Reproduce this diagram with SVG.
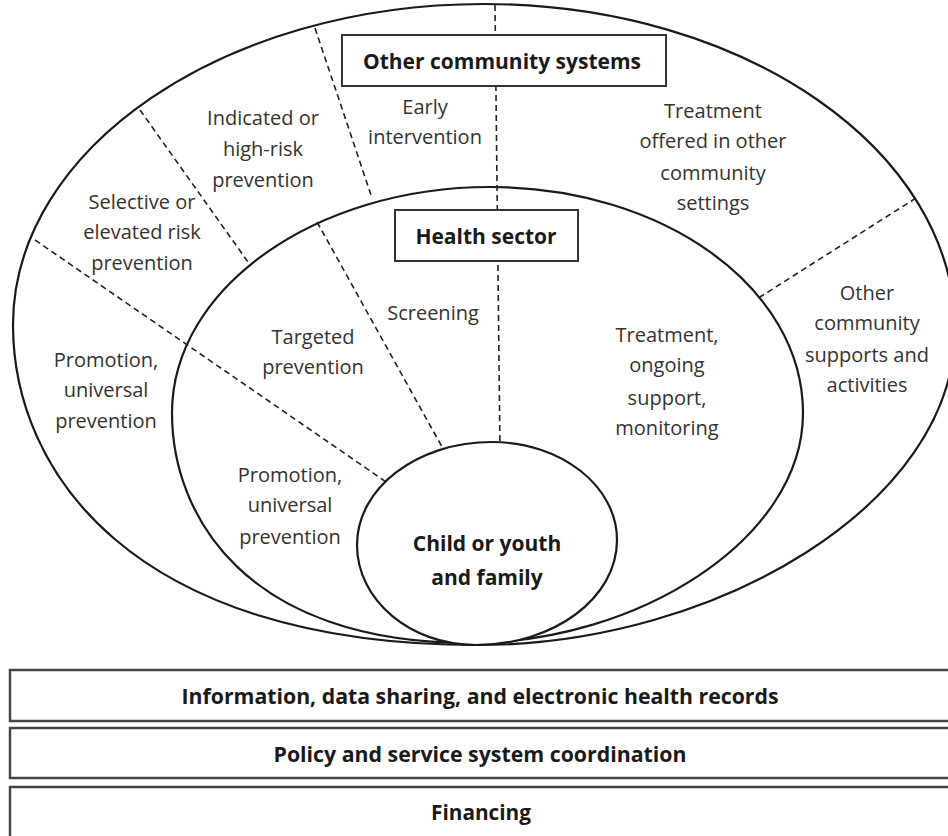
<svg xmlns="http://www.w3.org/2000/svg" width="948" height="836" viewBox="0 0 948 836">
<defs>
<style>
.ring{fill:none;stroke:#1a1a1a;stroke-width:2.2}
.dash{fill:none;stroke:#222;stroke-width:1.6;stroke-dasharray:6 4}
.box{fill:#fff;stroke:#333;stroke-width:2}
.bar{fill:#fff;stroke:#444;stroke-width:2.5}
.t{font-family:"Open Sans","Liberation Sans",sans-serif;font-size:20px;fill:#333;text-anchor:middle}
.b{font-family:"Open Sans","Liberation Sans",sans-serif;font-size:21px;font-weight:bold;fill:#1a1a1a;text-anchor:middle}
.bt{font-family:"Open Sans","Liberation Sans",sans-serif;font-size:21px;font-weight:bold;fill:#1a1a1a;text-anchor:middle}
</style>
</defs>
<rect width="948" height="836" fill="#fff"/>

<g id="outer-ring">
<path class="ring" d="M484,4 C744,4 955,150 955,330 C955,504 716,645 478,645 C129,645 13,469 13,325 C13,148 224,4 484,4 Z"/>
</g>
<g id="health-ring">
<path class="ring" d="M490,187 C664,187 803,288 803,413 C803,540 636,643 470,643 C246,643 172,516 172,413 C172,288 316,187 490,187 Z"/>
</g>

<g id="connectors">
<line class="dash" x1="495" y1="5" x2="500" y2="450"/>
<line class="dash" x1="315" y1="28" x2="372" y2="198"/>
<line class="dash" x1="140" y1="110" x2="248" y2="262"/>
<line class="dash" x1="35" y1="240" x2="392" y2="486"/>
<line class="dash" x1="317" y1="222" x2="446" y2="454"/>
<line class="dash" x1="916" y1="198" x2="760" y2="297"/>
</g>

<g id="child">
<path class="ring" style="fill:#fff" d="M492,442 C561,442 617,486 617,540 C617,598 554,645 476,645 C410,645 357,600 357,545 C357,488 417,442 492,442 Z"/>
<text class="b" x="487" y="551">Child or youth</text>
<text class="b" x="487" y="585">and family</text>
</g>

<g id="other-community-systems">
<rect class="box" x="342" y="35" width="324" height="51"/>
<text class="b" x="502" y="69">Other community systems</text>
</g>
<g id="health-sector">
<rect class="box" x="395" y="210" width="183" height="51"/>
<text class="b" x="486" y="244">Health sector</text>
</g>

<g id="early-intervention">
<text class="t" x="425" y="114">Early</text>
<text class="t" x="425" y="144">intervention</text>
</g>
<g id="indicated">
<text class="t" x="263" y="125">Indicated or</text>
<text class="t" x="263" y="156">high-risk</text>
<text class="t" x="263" y="187">prevention</text>
</g>
<g id="selective">
<text class="t" x="142" y="209">Selective or</text>
<text class="t" x="142" y="239">elevated risk</text>
<text class="t" x="142" y="270">prevention</text>
</g>
<g id="treatment-other">
<text class="t" x="713" y="118">Treatment</text>
<text class="t" x="713" y="148">offered in other</text>
<text class="t" x="713" y="180">community</text>
<text class="t" x="713" y="210">settings</text>
</g>
<g id="other-supports">
<text class="t" x="867" y="300">Other</text>
<text class="t" x="867" y="330">community</text>
<text class="t" x="867" y="362">supports and</text>
<text class="t" x="867" y="392">activities</text>
</g>
<g id="promotion-outer">
<text class="t" x="106" y="367">Promotion,</text>
<text class="t" x="106" y="397">universal</text>
<text class="t" x="106" y="428">prevention</text>
</g>
<g id="screening">
<text class="t" x="433" y="320">Screening</text>
</g>
<g id="targeted">
<text class="t" x="313" y="344">Targeted</text>
<text class="t" x="313" y="374">prevention</text>
</g>
<g id="treatment-health">
<text class="t" x="667" y="342">Treatment,</text>
<text class="t" x="667" y="372">ongoing</text>
<text class="t" x="667" y="405">support,</text>
<text class="t" x="667" y="435">monitoring</text>
</g>
<g id="promotion-inner">
<text class="t" x="290" y="482">Promotion,</text>
<text class="t" x="290" y="512">universal</text>
<text class="t" x="290" y="544">prevention</text>
</g>

<g id="bar-information">
<rect class="bar" x="10" y="670" width="945" height="51"/>
<text class="bt" x="480" y="704" textLength="597" lengthAdjust="spacingAndGlyphs">Information, data sharing, and electronic health records</text>
</g>
<g id="bar-policy">
<rect class="bar" x="10" y="728" width="945" height="50"/>
<text class="bt" x="480" y="762" textLength="413" lengthAdjust="spacingAndGlyphs">Policy and service system coordination</text>
</g>
<g id="bar-financing">
<rect class="bar" x="10" y="787" width="945" height="60"/>
<text class="bt" x="481" y="820" textLength="100" lengthAdjust="spacingAndGlyphs">Financing</text>
</g>
</svg>
